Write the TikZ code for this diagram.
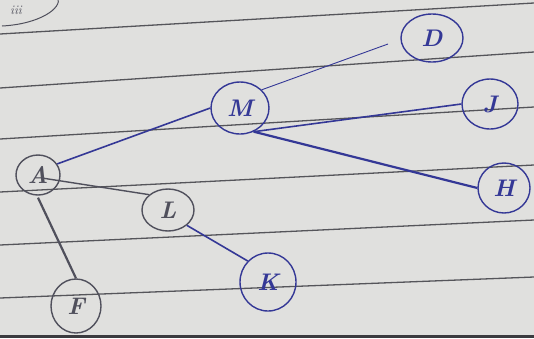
\documentclass[tikz,border=0pt]{standalone}
\usetikzlibrary{shapes.geometric}
\definecolor{paper}{RGB}{224,224,222}
\definecolor{rule}{RGB}{85,85,90}
\definecolor{ink}{RGB}{52,56,150}
\definecolor{pencil}{RGB}{80,80,92}
\tikzset{
  vtx/.style={ellipse, draw=ink, line width=1.4pt, text=ink, inner sep=0pt,
    font=\fontsize{24}{24}\selectfont\bfseries\itshape},
  gvtx/.style={vtx, draw=pencil, text=pencil},
  ruleline/.style={rule, line width=1.3pt},
  inkedge/.style={ink, line width=1.6pt},
  penedge/.style={pencil, line width=1.4pt}
}
\begin{document}
\begin{tikzpicture}[x=1pt,y=-1pt]
\fill[paper] (0,0) rectangle (534,338);
\useasboundingbox (0,0) rectangle (534,338);
% ruled lines
\draw[ruleline] (0,34) -- (534,3);
\draw[ruleline] (0,88) -- (534,52);
\draw[ruleline] (0,139) -- (534,107);
\draw[ruleline] (0,192) -- (534,165);
\draw[ruleline] (0,245) -- (534,220);
\draw[ruleline] (0,298) -- (534,277);
\fill[rule!70!black] (0,335) rectangle (534,338);
% corner mark
\node[text=pencil, font=\fontsize{13}{13}\selectfont\itshape] (tag) at (16,10) {iii};
\draw[pencil, line width=1pt] (2,26) .. controls (40,24) and (62,8) .. (58,-2);
% vertices
\node[gvtx, minimum width=44pt, minimum height=40pt] (A) at (38,175) {A};
\node[vtx, minimum width=58pt, minimum height=52pt] (M) at (240,108) {M};
\node[vtx, minimum width=62pt, minimum height=48pt] (D) at (432,38) {D};
\node[vtx, minimum width=56pt, minimum height=50pt] (J) at (490,104) {J};
\node[vtx, minimum width=52pt, minimum height=50pt] (H) at (504,188) {H};
\node[gvtx, minimum width=52pt, minimum height=42pt] (L) at (168,210) {L};
\node[vtx, minimum width=56pt, minimum height=58pt] (K) at (268,282) {K};
\node[gvtx, minimum width=50pt, minimum height=54pt] (F) at (76,306) {F};
\coordinate (Dend) at (388,44);
% edges
\draw[inkedge] (A.30) -- (M.west);
\draw[penedge] (A.center) ++(4,3) coordinate (Aa) (Aa) -- (L.north west);
\draw[penedge, line width=2.2pt] (A.south) ++(0,2) coordinate (Ab) (Ab) -- (F.north);
\draw[inkedge] (L.south east) -- (K.north west);
\draw[ink, line width=0.9pt] (M.40) -- (Dend);
\draw[inkedge] (M.300) -- (J.west);
\draw[inkedge, line width=2.2pt] (M.300) -- (H.west);
\end{tikzpicture}
\end{document}
